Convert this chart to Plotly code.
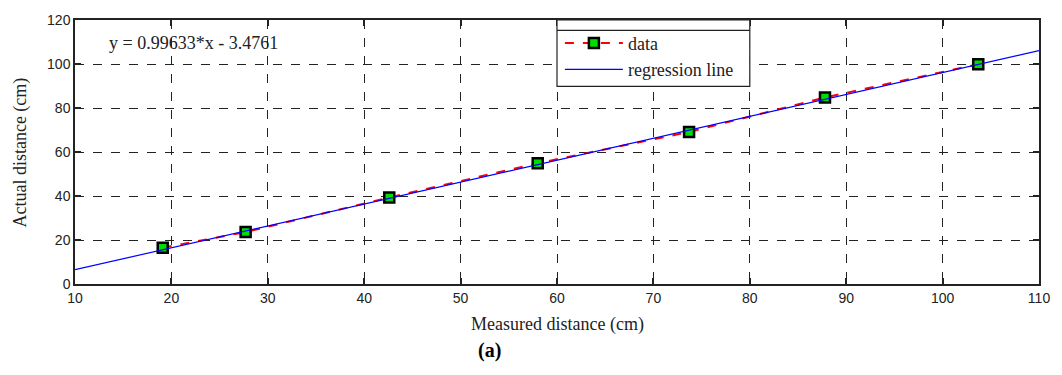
import plotly.graph_objects as go

# Data
measured = [19.1, 27.7, 42.6, 58.0, 73.7, 87.8, 103.7]
actual = [16.5, 23.6, 39.3, 54.9, 69.1, 84.8, 99.9]
reg_x = [10, 110]
reg_y = [6.5, 106.1]
x_ticks = [10, 20, 30, 40, 50, 60, 70, 80, 90, 100, 110]
y_ticks = [0, 20, 40, 60, 80, 100, 120]
equation = "y = 0.99633*x - 3.4761"

serif = "Liberation Serif, Times New Roman, serif"
sans = "Liberation Sans, Arial, sans-serif"

fig = go.Figure()
fig.add_trace(go.Scatter(
    x=measured, y=actual, mode="lines+markers", name="data",
    line=dict(color="red", width=2, dash="dash"),
    marker=dict(symbol="square", size=10, color="#00dd00",
                line=dict(color="black", width=2.5)),
))
fig.add_trace(go.Scatter(
    x=reg_x, y=reg_y, mode="lines", name="regression line",
    line=dict(color="blue", width=1.2),
))

axis_common = dict(
    showline=True, linecolor="#222", linewidth=1.5, mirror="ticks",
    ticks="inside", ticklen=6, tickcolor="#222", tickwidth=1.5,
    showgrid=True, gridcolor="#222", gridwidth=1, griddash="dash",
    zeroline=False, tickfont=dict(family=sans, size=14, color="#222"),
)
fig.update_xaxes(range=[10, 110], tickvals=x_ticks, **axis_common)
fig.update_yaxes(range=[0, 120], tickvals=y_ticks, **axis_common)

# legend frame (MATLAB-style)
fig.add_shape(type="rect", x0=60, x1=80, y0=89.8, y1=120,
              line=dict(color="#222", width=1.2), fillcolor="white", layer="above")
fig.add_shape(type="line", x0=60, x1=80, y0=115.3, y1=115.3,
              line=dict(color="#222", width=1.2), layer="above")

fig.update_layout(
    width=1062, height=375,
    margin=dict(l=75, r=22, t=15, b=91),
    paper_bgcolor="white", plot_bgcolor="white",
    showlegend=True,
    legend=dict(x=0.503, y=0.982, xanchor="left", yanchor="top",
                bgcolor="rgba(0,0,0,0)", borderwidth=0,
                font=dict(family=serif, size=18, color="#222"),
                tracegroupgap=0, itemwidth=58),
    annotations=[
        dict(x=13.3, y=109.5, xref="x", yref="y", text=equation, showarrow=False,
             xanchor="left", yanchor="middle",
             font=dict(family=serif, size=18, color="#222")),
        dict(x=0.5005, y=-0.152, xref="paper", yref="paper",
             text="Measured distance (cm)", showarrow=False,
             xanchor="center", yanchor="middle",
             font=dict(family=serif, size=18, color="#222")),
        dict(x=-0.057, y=0.498, xref="paper", yref="paper",
             text="Actual distance (cm)", showarrow=False, textangle=-90,
             xanchor="center", yanchor="middle",
             font=dict(family=serif, size=18, color="#222")),
        dict(x=0.430, y=-0.253, xref="paper", yref="paper",
             text="<b>(a)</b>", showarrow=False,
             xanchor="center", yanchor="middle",
             font=dict(family=serif, size=20, color="black")),
    ],
)

fig.write_html("out.html")
